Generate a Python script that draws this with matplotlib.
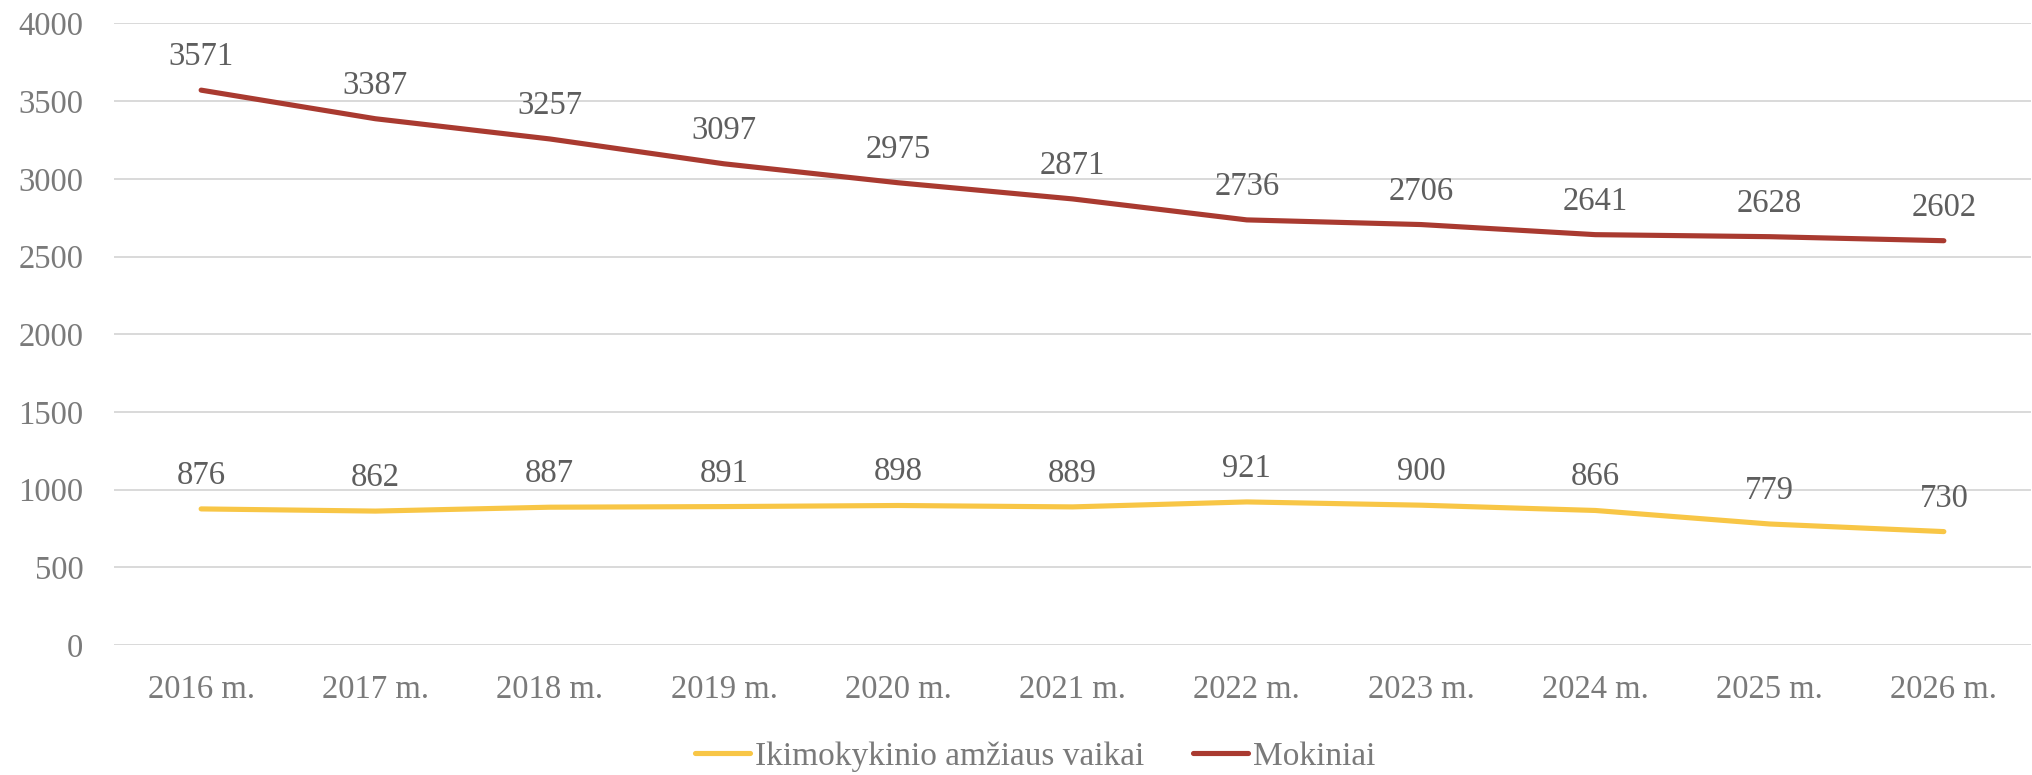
import matplotlib
matplotlib.use("Agg")
import matplotlib.pyplot as plt

years = ["2016 m.", "2017 m.", "2018 m.", "2019 m.", "2020 m.", "2021 m.",
         "2022 m.", "2023 m.", "2024 m.", "2025 m.", "2026 m."]
ikimokyklinio = [876, 862, 887, 891, 898, 889, 921, 900, 866, 779, 730]
mokiniai = [3571, 3387, 3257, 3097, 2975, 2871, 2736, 2706, 2641, 2628, 2602]
yticks = [0, 500, 1000, 1500, 2000, 2500, 3000, 3500, 4000]

plt.rcParams['font.family'] = ['Liberation Serif', 'DejaVu Serif']
TXT = '#7A7A7A'
LBL = '#5E5E5E'
FS = 23.5

fig = plt.figure(figsize=(20.32, 7.75), dpi=100)
ax = fig.add_axes([0.0561, 0.1677, 0.9434, 0.802])

x = list(range(len(years)))
l1, = ax.plot(x, ikimokyklinio, color='#F8C646', lw=3.7, solid_capstyle='round',
              label='Ikimokykinio amžiaus vaikai')
l2, = ax.plot(x, mokiniai, color='#A93A30', lw=3.7, solid_capstyle='round',
              label='Mokiniai')

for xi, v in zip(x, ikimokyklinio):
    ax.annotate(str(v), (xi, v), xytext=(0, 18), textcoords='offset points',
                ha='center', va='baseline', fontsize=FS, color=LBL)
for xi, v in zip(x, mokiniai):
    ax.annotate(str(v), (xi, v), xytext=(0, 18), textcoords='offset points',
                ha='center', va='baseline', fontsize=FS, color=LBL)

ax.set_xlim(-0.5, len(years) - 0.5)
ax.set_ylim(0, 4000)
ax.set_yticks(yticks)
ax.set_xticks(x)
ax.set_xticklabels(years)
ax.grid(axis='y', color='#D9D9D9', lw=1.4)
ax.set_axisbelow(True)
for s in ax.spines.values():
    s.set_visible(False)
ax.tick_params(axis='both', length=0, labelsize=FS, colors=TXT)
ax.tick_params(axis='x', pad=21)
ax.tick_params(axis='y', pad=22)

fig.legend(handles=[l1, l2], loc='center', bbox_to_anchor=(0.5095, 0.024),
           ncol=2, frameon=False, fontsize=24, labelcolor=TXT,
           handlelength=1.65, handletextpad=0.15, columnspacing=1.45,
           borderpad=0.1)

fig.savefig('out.png', dpi=100)
